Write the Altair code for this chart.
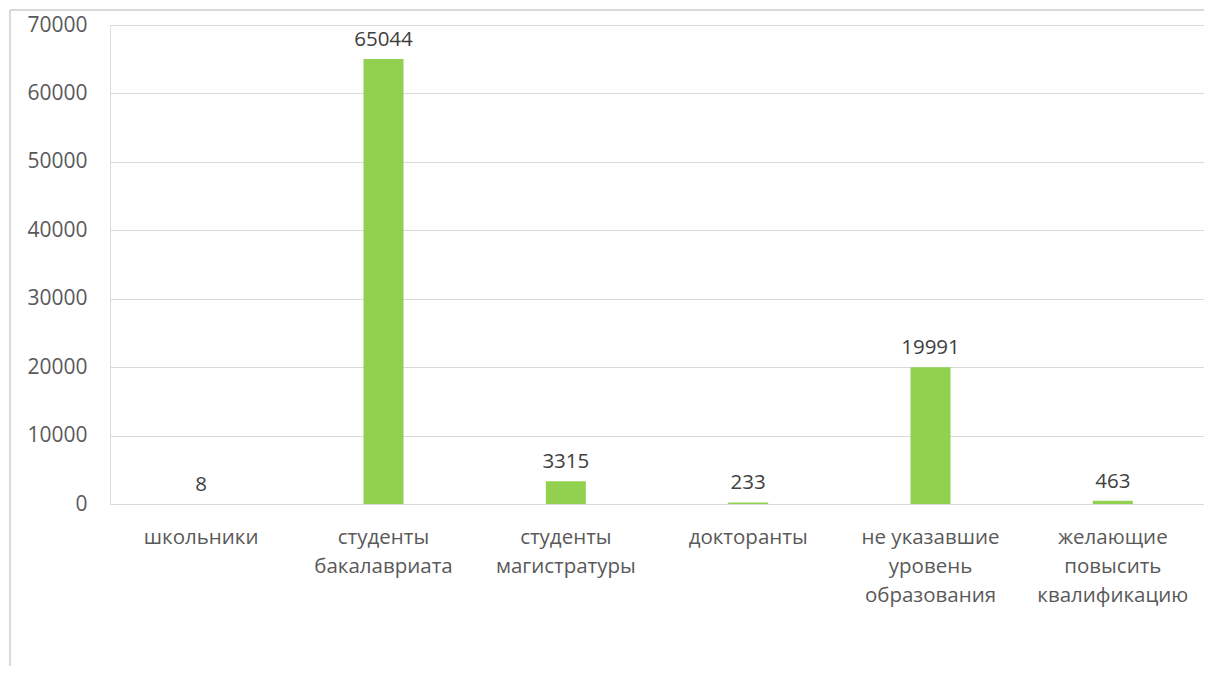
import altair as alt
import pandas as pd

categories = [
    "школьники",
    "студенты\nбакалавриата",
    "студенты\nмагистратуры",
    "докторанты",
    "не указавшие\nуровень\nобразования",
    "желающие\nповысить\nквалификацию",
]
values = [8, 65044, 3315, 233, 19991, 463]
y_ticks = [0, 10000, 20000, 30000, 40000, 50000, 60000, 70000]

df = pd.DataFrame({"cat": categories, "val": values})

FONT = "Open Sans"

x_enc = alt.X(
    "cat:N",
    sort=categories,
    title=None,
    scale=alt.Scale(paddingInner=0, paddingOuter=0),
    axis=alt.Axis(
        labelExpr="split(datum.label, '\\n')",
        labelAngle=0,
        labelFontSize=20.5,
        labelLineHeight=29,
        labelColor="#595959",
        labelFont=FONT,
        labelPadding=23,
        ticks=False,
        domain=False,
        grid=False,
        labelBaseline="top",
    ),
)
y_enc = alt.Y(
    "val:Q",
    title=None,
    scale=alt.Scale(domain=[0, 70000], nice=False),
    axis=alt.Axis(
        values=y_ticks,
        format="d",
        labelFontSize=21,
        labelColor="#595959",
        labelFont=FONT,
        labelPadding=23,
        ticks=False,
        domain=False,
        grid=True,
        gridColor="#D9D9D9",
        gridWidth=1,
    ),
)

base = alt.Chart(df)
bars = base.mark_bar(color="#92D050", size=40).encode(x=x_enc, y=y_enc)
labels = base.mark_text(
    fontSize=20.5, font=FONT, color="#404040", dy=-13, baseline="alphabetic"
).encode(x=alt.X("cat:N", sort=categories), y="val:Q", text="val:Q")

border_left = alt.Chart(df).mark_rule(color="#D9D9D9", strokeWidth=1.5).encode(
    x=alt.value(-100), y=alt.value(-15), y2=alt.value(800)
)
border_top = alt.Chart(df).mark_rule(color="#D9D9D9", strokeWidth=1.5).encode(
    x=alt.value(-100), x2=alt.value(1300), y=alt.value(-15)
)

chart = (
    alt.layer(border_left, border_top, bars, labels)
    .properties(
        width=1094,
        height=479,
        autosize=alt.AutoSizeParams(type="none"),
        padding={"left": 102, "top": 17, "right": 0, "bottom": 162},
    )
    .configure_view(stroke=None)
    .configure(background="white")
)

chart.save("out.html", embed_options={"renderer": "svg", "actions": False})
